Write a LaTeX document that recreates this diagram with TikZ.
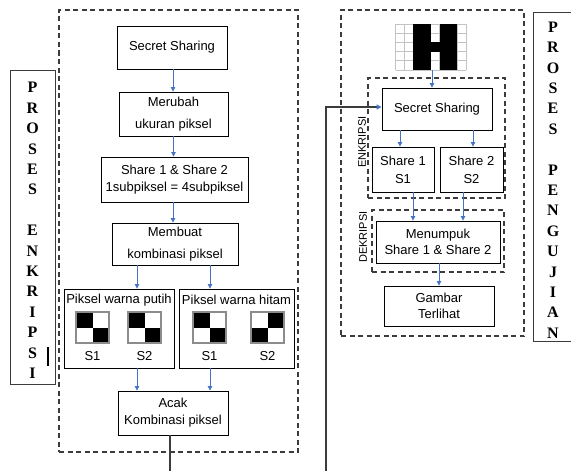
\documentclass[tikz,border=0pt]{standalone}
\usepackage{fontspec}
\setmainfont{Liberation Sans}
\newfontfamily\serifb{Liberation Serif}
\usetikzlibrary{arrows.meta}
\definecolor{arrblue}{RGB}{68,114,196}
\definecolor{dgray}{RGB}{60,60,60}
\definecolor{lgray}{RGB}{195,195,195}
\definecolor{sqgray}{RGB}{140,140,140}
\tikzset{
  pixA/.pic={
    \fill[black] (-16.5,-15.5) rectangle (0,0);
    \fill[black] (0,0) rectangle (16.5,15.5);
    \draw[sqgray,line width=1.2pt] (-16.5,-15.5) rectangle (16.5,15.5);
  },
  pixB/.pic={
    \fill[black] (0,-15.5) rectangle (16.5,0);
    \fill[black] (-16.5,0) rectangle (0,15.5);
    \draw[sqgray,line width=1.2pt] (-16.5,-15.5) rectangle (16.5,15.5);
  }
}
\begin{document}
\begin{tikzpicture}[x=1pt,y=-1pt,
  box/.style={draw=black,line width=0.9pt,align=center,inner sep=0pt,font=\fontsize{13}{17}\selectfont},
  dbox/.style={draw=dgray,dash pattern=on 5pt off 3.5pt,line width=1.1pt,inner sep=0pt},
  lbl/.style={draw=dgray,line width=0.9pt,inner sep=0pt},
  vtext/.style={font=\serifb\bfseries\fontsize{16}{20.4}\selectfont,align=center,inner sep=0pt},
  arr/.style={draw=arrblue,line width=0.8pt,-{Triangle[length=4.5pt,width=4.5pt]}},
  conn/.style={draw=dgray,line width=1.3pt},
  txt/.style={font=\fontsize{13}{15}\selectfont,inner sep=0pt},
  rot/.style={rotate=90,font=\fontsize{11}{13}\selectfont,inner sep=0pt}]
\useasboundingbox (0,0) rectangle (571,471);

% ---------- left: PROSES ENKRIPSI ----------
\node[lbl,minimum width=45pt,minimum height=314pt] (lbox) at (32.5,227) {};
\node[vtext] (ltxt) at (32.5,230.5) {P\\R\\O\\S\\E\\S\\[20.4pt]E\\N\\K\\R\\I\\P\\S\\I};
\draw[black,line width=1.5pt] (48,347) -- (48,366);

\node[dbox,minimum width=239pt,minimum height=442pt] (lout) at (178.5,231) {};

\node[box,minimum width=110pt,minimum height=43pt] (ss1) at (172,47.5) {Secret Sharing};
\node[box,minimum width=109pt,minimum height=44pt,font=\fontsize{13}{22}\selectfont] (mer) at (173.5,114) {Merubah\\ukuran piksel};
\node[box,minimum width=147pt,minimum height=45pt] (shr) at (174.5,179.5) {Share 1 \& Share 2\\1subpiksel = 4subpiksel};
\node[box,minimum width=126pt,minimum height=42pt,font=\fontsize{13}{22}\selectfont] (memb) at (175,244) {Membuat\\kombinasi piksel};
\node[box,minimum width=110pt,minimum height=79pt] (putih) at (119,328.5) {};
\node[box,minimum width=115pt,minimum height=79pt] (hitam) at (236.5,328.5) {};
\node[box,minimum width=110pt,minimum height=44pt] (acak) at (173,413) {Acak\\Kombinasi piksel};

\node[txt] (tp) at (119,300) {Piksel warna putih};
\node[txt] (th) at (236.5,300) {Piksel warna hitam};
\pic at (92.5,327.5) {pixA};
\pic at (144.5,327.5) {pixA};
\pic at (209.5,327.5) {pixA};
\pic at (267.5,327.5) {pixB};
\node[txt] (p1) at (92.5,356) {S1};
\node[txt] (p2) at (144.5,356) {S2};
\node[txt] (h1) at (209.5,356) {S1};
\node[txt] (h2) at (267.5,356) {S2};

\draw[arr] ([xshift=1pt]ss1.south) -- ([xshift=1pt]ss1.south |- mer.north);
\draw[arr] (mer.south) -- (mer.south |- shr.north);
\draw[arr] ([xshift=-1.5pt]shr.south) -- ([xshift=-1.5pt]shr.south |- memb.north);
\draw[arr] ([xshift=-38pt]memb.south) -- ([xshift=-38pt]memb.south |- putih.north);
\draw[arr] ([xshift=35pt]memb.south) -- ([xshift=35pt]memb.south |- hitam.north);
\draw[arr] ([xshift=18pt]putih.south) -- ([xshift=18pt]putih.south |- acak.north);
\draw[arr] ([xshift=-26.5pt]hitam.south) -- ([xshift=-26.5pt]hitam.south |- acak.north);
\coordinate (lbot) at (170,475);
\draw[conn] (acak.south -| lbot) -- (lbot);

% ---------- right: PROSES PENGUJIAN ----------
\node[lbl,minimum width=40pt,minimum height=329pt] (rbox) at (553,176.5) {};
\node[vtext] (rtxt) at (553,180) {P\\R\\O\\S\\E\\S\\[20.4pt]P\\E\\N\\G\\U\\J\\I\\A\\N};

\node[dbox,minimum width=183pt,minimum height=326pt] (rout) at (432.5,173) {};

% H image
\foreach \i in {0,...,8} \draw[lgray,line width=0.7pt] (395.5+8.8*\i,24) -- (395.5+8.8*\i,70);
\foreach \j in {0,...,5} \draw[lgray,line width=0.7pt] (395.5,24+9.2*\j) -- (465.9,24+9.2*\j);
\fill[black] (413.1,24) rectangle (430.7,70);
\fill[black] (430.7,42.4) rectangle (439.5,51.6);
\fill[black] (439.5,24) rectangle (457.1,70);
\node[minimum width=70.4pt,minimum height=46pt,inner sep=0pt] (himg) at (432,47) {};

\node[dbox,minimum width=137pt,minimum height=120pt] (enk) at (436.5,138) {};
\node[rot] (enkl) at (362,142) {ENKRIPSI};
\node[box,minimum width=110pt,minimum height=42pt] (ss2) at (437,109) {Secret Sharing};
\node[box,minimum width=62pt,minimum height=45pt,font=\fontsize{13}{18}\selectfont] (sh1) at (403,169.5) {Share 1\\S1};
\node[box,minimum width=63pt,minimum height=45pt,font=\fontsize{13}{18}\selectfont] (sh2) at (471.5,169.5) {Share 2\\S2};

\node[dbox,minimum width=132pt,minimum height=62pt] (dek) at (438,241) {};
\node[rot] (dekl) at (363,237) {DEKRIPSI};
\node[box,minimum width=124pt,minimum height=42pt,font=\fontsize{13}{16}\selectfont] (men) at (438,242) {Menumpuk\\Share 1 \& Share 2};
\node[box,minimum width=110pt,minimum height=40pt,font=\fontsize{13}{16}\selectfont] (gam) at (439,306) {Gambar\\Terlihat};

\draw[arr] (himg.south) -- (himg.south |- ss2.north);
\draw[arr] ([xshift=-37pt]ss2.south) -- ([xshift=-37pt]ss2.south |- sh1.north);
\draw[arr] ([xshift=36pt]ss2.south) -- ([xshift=36pt]ss2.south |- sh2.north);
\draw[arr] ([xshift=10pt]sh1.south) -- ([xshift=10pt]sh1.south |- men.north);
\draw[arr] ([xshift=-8.5pt]sh2.south) -- ([xshift=-8.5pt]sh2.south |- men.north);
\draw[arr] ([xshift=1pt]men.south) -- ([xshift=1pt]men.south |- gam.north);

\coordinate (rbot) at (326,475);
\draw[conn,-{Triangle[length=5pt,width=5pt,color=arrblue]}] (rbot) |- ([yshift=2pt]ss2.west);
\end{tikzpicture}
\end{document}
